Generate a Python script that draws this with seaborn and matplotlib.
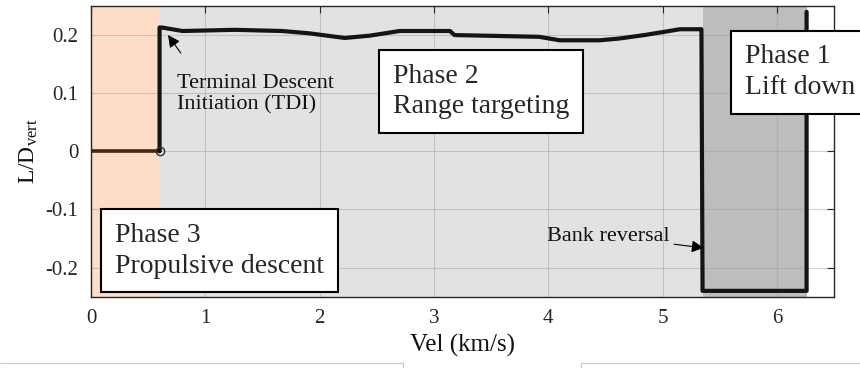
import matplotlib
matplotlib.use("Agg")
import matplotlib.pyplot as plt
from matplotlib.lines import Line2D
import seaborn as sns
import pandas as pd

# ---- data ----
vel = [0.60, 0.60, 0.62, 0.80, 1.26, 1.67, 1.91, 2.22, 2.44, 2.70, 3.14, 3.18,
       3.92, 4.10, 4.45, 4.62, 4.84, 5.06, 5.15, 5.34, 5.35, 6.26, 6.26]
ld_vert = [0.0, 0.213, 0.213, 0.207, 0.209, 0.207, 0.203, 0.195, 0.199, 0.207, 0.207, 0.200,
           0.197, 0.191, 0.191, 0.194, 0.200, 0.207, 0.210, 0.210, -0.240, -0.240, 0.240]
phase3_vel = [0.0, 0.60]
phase3_ld = [0.0, 0.0]
phase_edges = [0.0, 0.60, 5.35, 6.26]   # phase 3 | phase 2 | phase 1
phase_colors = ["#FDDCC8", "#E2E2E2", "#BDBDBD"]
x_ticks = [0, 1, 2, 3, 4, 5, 6]
y_ticks = [-0.2, -0.1, 0, 0.1, 0.2]
y_ticklabels = ["-0.2", "-0.1", "0", "0.1", "0.2"]

sns.set_style("white")
plt.rcParams["font.family"] = ["Liberation Serif", "DejaVu Serif"]
plt.rcParams["mathtext.fontset"] = "custom"
plt.rcParams["mathtext.rm"] = "Liberation Serif"
plt.rcParams["mathtext.it"] = "Liberation Serif:italic"

fig = plt.figure(figsize=(8.6, 3.68), dpi=100)
ax = fig.add_axes([0.1058, 0.1938, 0.9698 - 0.1058, 0.9837 - 0.1938])

# phase shading
for i in range(3):
    ax.axvspan(phase_edges[i], phase_edges[i + 1], color=phase_colors[i], zorder=0, lw=0)

df_main = pd.DataFrame({"vel": vel, "ld": ld_vert})
df_p3 = pd.DataFrame({"vel": phase3_vel, "ld": phase3_ld})
sns.lineplot(data=df_p3, x="vel", y="ld", sort=False, estimator=None, ax=ax,
             color="#4A2412", lw=2.6, zorder=3)
sns.lineplot(data=df_main, x="vel", y="ld", sort=False, estimator=None, ax=ax,
             color="#141414", lw=3.0, zorder=3)
ax.plot([phase3_vel[-1]], [phase3_ld[-1]], marker="o", ms=6, mfc="none",
        mec="#3a2a20", mew=1.0, zorder=4)

ax.set_xlim(0, 6.5)
ax.set_ylim(-0.25, 0.25)
ax.set_xticks(x_ticks)
ax.set_yticks(y_ticks)
ax.set_yticklabels(y_ticklabels)
ax.tick_params(direction="in", length=5, width=0.8, top=True, right=True,
               labelsize=15, colors="#262626", pad=9)
ax.grid(True, color="#9a9a9a", alpha=0.45, lw=0.8)
ax.set_axisbelow(False)
for s in ax.spines.values():
    s.set_color("#262626")
    s.set_linewidth(1.0)
    s.set_zorder(5)

ax.set_xlabel("Vel (km/s)", fontsize=18, color="#111111", labelpad=4)
ax.set_ylabel(r"L/D$_{\mathrm{vert}}$", fontsize=17, color="#111111", labelpad=4)

box = dict(boxstyle="square,pad=0.5", fc="white", ec="black", lw=1.5)
ax.text(2.64, 0.103, "Phase 2\nRange targeting", fontsize=20, va="center", ha="left",
        bbox=box, zorder=6, linespacing=1.3)
ax.text(5.72, 0.136, "Phase 1\nLift down", fontsize=20, va="center", ha="left",
        bbox=box, zorder=6, clip_on=False, linespacing=1.3)
ax.text(0.21, -0.171, "Phase 3\nPropulsive descent", fontsize=20, va="center", ha="left",
        bbox=box, zorder=6, linespacing=1.3)

ax.annotate("", xy=(0.66, 0.204), xytext=(0.80, 0.165),
            arrowprops=dict(arrowstyle="-|>", color="black", lw=0.8, mutation_scale=18),
            zorder=6)
ax.text(0.75, 0.098, "Terminal Descent\nInitiation (TDI)", fontsize=16, va="center",
        ha="left", zorder=6, linespacing=1.2, color="#111111")
ax.annotate("Bank reversal", xy=(5.36, -0.166), xytext=(5.06, -0.146),
            fontsize=16, ha="right", va="center", color="#111111",
            arrowprops=dict(arrowstyle="-|>", color="black", lw=0.8, mutation_scale=18,
                            shrinkA=1, shrinkB=0),
            zorder=6)

# faint frame lines at the bottom of the reference image
fig.add_artist(Line2D([0, 403 / 860, 403 / 860], [1 - 363 / 368, 1 - 363 / 368, 0],
                      color="#c8c8c8", lw=0.8, transform=fig.transFigure))
fig.add_artist(Line2D([581 / 860, 581 / 860, 1], [0, 1 - 363 / 368, 1 - 363 / 368],
                      color="#c8c8c8", lw=0.8, transform=fig.transFigure))

fig.savefig("out.png", dpi=100)
